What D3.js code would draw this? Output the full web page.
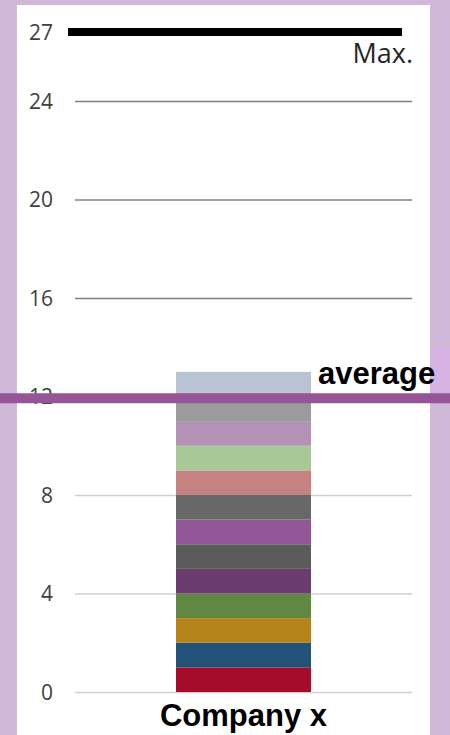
<!DOCTYPE html>
<html>
<head>
<meta charset="utf-8">
<script src="https://cdn.jsdelivr.net/npm/d3@7/dist/d3.min.js"></script>
<style>
  body { margin: 0; background: #d0b9d8; }
  svg { display: block; }
</style>
</head>
<body>
<div id="chart"></div>
<script>
// stacked single bar with average + max markers

var categories = ["Company x"];
var segmentValues = [1, 1, 1, 1, 1, 1, 1, 1, 1, 1, 1, 1, 1];
var segmentColors = ["#a50d2a", "#245178", "#b58318", "#608843", "#6b3d6e", "#5b5b5b",
                     "#925595", "#686868", "#c48283", "#a8c896", "#b392b5", "#9b9b9b", "#b9c3d3"];
var tickValues = [0, 4, 8, 12, 16, 20, 24];
var maxValue = 26.8;
var maxLabel = "27";
var averageValue = 11.93;

var svgWidth = 450, svgHeight = 735;

var svg = d3.select("#chart").append("svg")
    .attr("width", svgWidth)
    .attr("height", svgHeight);

// background and white panel
svg.append("rect").attr("width", svgWidth).attr("height", svgHeight).attr("fill", "#d0b9d8");
svg.append("rect").attr("x", 17).attr("y", 5).attr("width", 413).attr("height", svgHeight).attr("fill", "#ffffff");
svg.append("rect").attr("x", 430).attr("y", 348).attr("width", 20).attr("height", 50).attr("fill", "#d5b2e2");

var y = d3.scaleLinear().domain([0, 24]).range([692, 101]);
var x = d3.scaleBand().domain(categories).range([75, 412]).paddingInner(0).paddingOuter(0.5);
var barW = 135;

// gridlines
svg.selectAll(".grid")
    .data(tickValues)
  .enter().append("line")
    .attr("class", "grid")
    .attr("x1", 75).attr("x2", 412)
    .attr("y1", function(d) { return y(d) + 0.5; })
    .attr("y2", function(d) { return y(d) + 0.5; })
    .attr("stroke", function(d) { return d > 12 ? "#7f7f7f" : "#cfcfcf"; })
    .attr("stroke-width", 1.3);

// tick labels
var labels = tickValues.map(function(d) { return {v: d, t: String(d)}; });
labels.push({v: maxValue, t: maxLabel});
svg.selectAll(".tick-label")
    .data(labels)
  .enter().append("text")
    .attr("class", "tick-label")
    .attr("x", 53)
    .attr("y", function(d) { return y(d.v); })
    .attr("dy", "0.36em")
    .attr("text-anchor", "end")
    .style("font-family", "'Open Sans', 'Noto Sans', sans-serif")
    .style("font-size", "21px")
    .style("fill", "#404040")
    .text(function(d) { return d.t; });

// stacked segments
var stack = [];
var cum = 0;
segmentValues.forEach(function(v, i) {
  stack.push({y0: cum, y1: cum + v, color: segmentColors[i]});
  cum += v;
});
var cx = x(categories[0]) + x.bandwidth() / 2;
svg.selectAll(".seg")
    .data(stack)
  .enter().append("rect")
    .attr("class", "seg")
    .attr("x", cx - barW / 2)
    .attr("width", barW)
    .attr("y", function(d) { return y(d.y1); })
    .attr("height", function(d) { return y(d.y0) - y(d.y1); })
    .attr("fill", function(d) { return d.color; });

// max line
svg.append("line")
    .attr("x1", 68).attr("x2", 402)
    .attr("y1", y(maxValue)).attr("y2", y(maxValue))
    .attr("stroke", "#000").attr("stroke-width", 8);
svg.append("text")
    .attr("x", 413).attr("y", 63)
    .attr("text-anchor", "end")
    .style("font-family", "'Open Sans', 'Noto Sans', sans-serif")
    .style("font-size", "27px")
    .style("fill", "#262626")
    .text("Max.");

// average line
svg.append("line")
    .attr("x1", 0).attr("x2", svgWidth)
    .attr("y1", y(averageValue)).attr("y2", y(averageValue))
    .attr("stroke", "#955596").attr("stroke-width", 10);
svg.append("text")
    .attr("x", 318).attr("y", 384)
    .style("font-family", "'Liberation Sans', Arial, sans-serif")
    .style("font-weight", "bold")
    .style("font-size", "31px")
    .style("fill", "#000")
    .text("average");

// category label
svg.append("text")
    .attr("x", cx).attr("y", 726)
    .attr("text-anchor", "middle")
    .style("font-family", "'Liberation Sans', Arial, sans-serif")
    .style("font-weight", "bold")
    .style("font-size", "31px")
    .style("fill", "#000")
    .text(categories[0]);
</script>
</body>
</html>
